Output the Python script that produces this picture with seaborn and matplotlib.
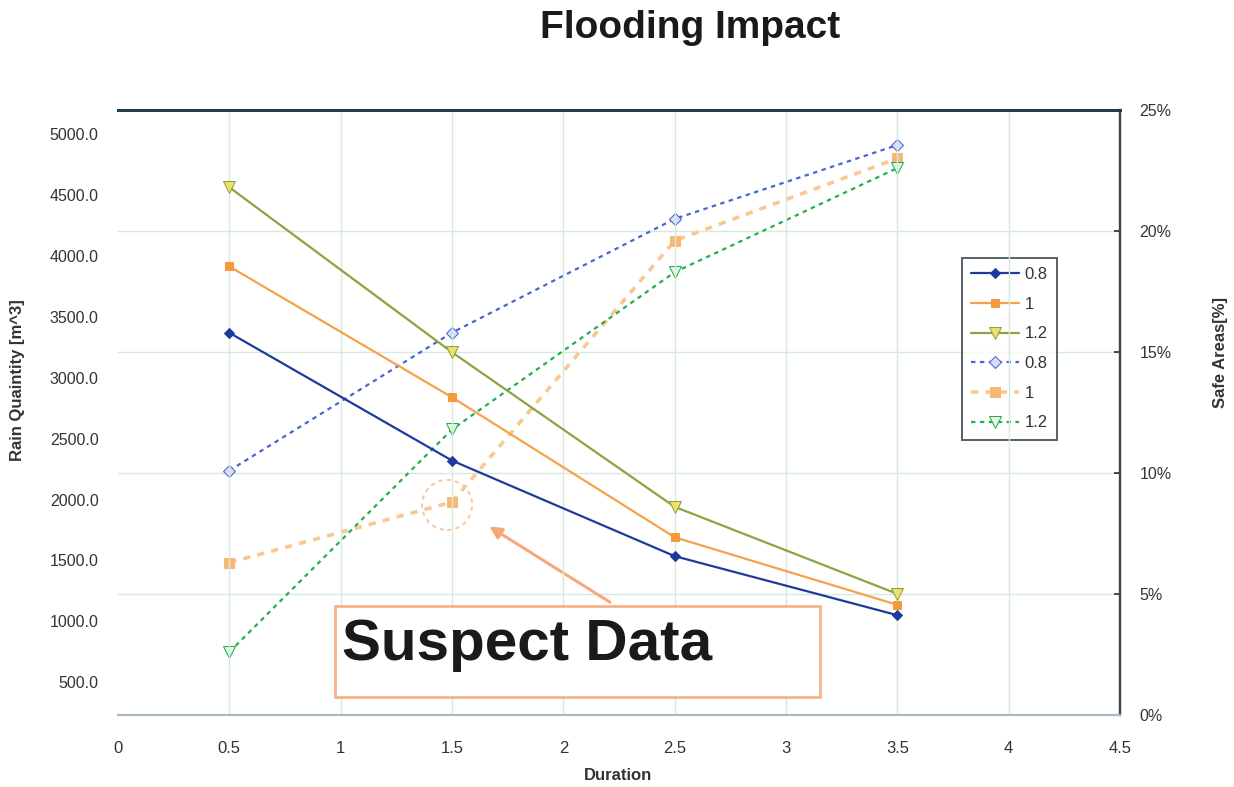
import matplotlib
matplotlib.use("Agg")
import matplotlib.pyplot as plt
import seaborn as sns
import pandas as pd
from matplotlib.patches import Ellipse, Rectangle
from matplotlib.ticker import FormatStrFormatter, FuncFormatter

# ---- data ----
duration = [0.5, 1.5, 2.5, 3.5]
rain_08 = [3370, 2320, 1535, 1050]
rain_10 = [3915, 2840, 1690, 1135]
rain_12 = [4565, 3210, 1940, 1225]
safe_08 = [10.1, 15.8, 20.5, 23.55]
safe_10 = [6.3, 8.8, 19.6, 23.0]
safe_12 = [2.6, 11.8, 18.3, 22.6]
series_labels = ["0.8", "1", "1.2"]
x_ticks = [0, 0.5, 1, 1.5, 2, 2.5, 3, 3.5, 4, 4.5]
left_ticks = [500, 1000, 1500, 2000, 2500, 3000, 3500, 4000, 4500, 5000]
right_ticks = [0, 5, 10, 15, 20, 25]

sns.set_theme(style="white")
plt.rcParams["font.family"] = ["Liberation Sans", "DejaVu Sans"]

fig = plt.figure(figsize=(12.34, 7.87), dpi=100)
ax = fig.add_axes([118 / 1234, 1 - 715 / 787, 1002 / 1234, 605 / 787])
ax2 = ax.twinx()

grid_c = "#d6eadc"
for xv in x_ticks[1:-1]:
    ax.axvline(xv, color=grid_c, lw=1, zorder=0)
for yv in right_ticks[1:-1]:
    ax2.axhline(yv, color=grid_c, lw=1, zorder=0)

solid_styles = [
    dict(color="#1e3a9c", marker="D", markersize=5, markerfacecolor="#1e3a9c", markeredgecolor="#1e3a9c"),
    dict(color="#f5a24a", marker="s", markersize=6, markerfacecolor="#f59a3c", markeredgecolor="#f59a3c"),
    dict(color="#8ea242", marker="v", markersize=8, markerfacecolor="#f0e070", markeredgecolor="#8ea242"),
]
dashed_styles = [
    dict(color="#4a64d8", marker="D", markersize=6, markerfacecolor="#d8ddf5", markeredgecolor="#4a64d8"),
    dict(color="#f9c890", marker="s", markersize=7, markerfacecolor="#f7b877", markeredgecolor="#f7b877"),
    dict(color="#22b04c", marker="v", markersize=8, markerfacecolor="#e6f5e6", markeredgecolor="#22b04c"),
]

for vals, lab, st in zip([rain_08, rain_10, rain_12], series_labels, solid_styles):
    df = pd.DataFrame({"Duration": duration, "val": vals})
    sns.lineplot(data=df, x="Duration", y="val", ax=ax, label=lab, lw=1.6,
                 linestyle="-", **st)

for vals, lab, st in zip([safe_08, safe_10, safe_12], series_labels, dashed_styles):
    df = pd.DataFrame({"Duration": duration, "val": vals})
    lw = 2.6 if lab == "1" else 1.6
    sns.lineplot(data=df, x="Duration", y="val", ax=ax2, label=lab, lw=lw,
                 linestyle=(0, (2, 2)), **st)

ax.set_xlim(0, 4.5)
ax.set_ylim(230, 5200)
ax2.set_ylim(0, 25)
ax.set_xticks(x_ticks)
ax.set_xticklabels([f"{v:g}" for v in x_ticks])
ax.set_yticks(left_ticks)
ax.yaxis.set_major_formatter(FormatStrFormatter("%.1f"))
ax2.set_yticks(right_ticks)
ax2.yaxis.set_major_formatter(FuncFormatter(lambda v, p: f"{v:.0f}%"))
ax.set_xlabel("")
ax.set_ylabel("")
ax2.set_ylabel("")

tick_c = "#333333"
ax.tick_params(axis="x", colors=tick_c, labelsize=12, pad=19, length=0)
ax.tick_params(axis="y", colors=tick_c, labelsize=11.5, pad=14, length=0)
ax2.tick_params(axis="y", colors=tick_c, labelsize=11.5, pad=14, length=4, direction="in")

for a in (ax, ax2):
    a.spines["left"].set_visible(False)
    a.spines["bottom"].set_color("#a9b9c4")
    a.spines["bottom"].set_linewidth(1.5)
    a.spines["top"].set_color("#1f3c48")
    a.spines["top"].set_linewidth(2)
    a.spines["right"].set_color("#3a4650")
    a.spines["right"].set_linewidth(1.6)
ax.set_facecolor("none")

ax.get_legend().remove()
h1, l1 = ax.get_legend_handles_labels()
h2, l2 = ax2.get_legend_handles_labels()
leg = ax2.legend(h1 + h2, l1 + l2, loc="upper left",
                 bbox_to_anchor=(962 / 1234, 1 - 258 / 787), bbox_transform=fig.transFigure,
                 borderaxespad=0, frameon=True, fancybox=False, edgecolor="#2a3a44", fontsize=12,
                 handlelength=2.9, labelspacing=0.88, borderpad=0.55, handletextpad=0.3)
leg.get_frame().set_linewidth(1.4)
for t in leg.get_texts():
    t.set_color("#333333")

# suspect data annotation
ax2.add_patch(Ellipse((1.478, 8.68), 0.225, 2.07, fill=False, edgecolor="#f8c8a0",
                      lw=1.5, linestyle=(0, (2, 2)), zorder=5))
ax2.annotate("", xy=(1.657, 7.85), xytext=(2.22, 4.6),
             arrowprops=dict(arrowstyle="-|>", color="#f7a878", lw=2.2,
                             mutation_scale=18), zorder=5)
ax.add_patch(Rectangle((0.2166, 0.0298), 0.484, 0.1505, transform=ax.transAxes,
                       facecolor="white", edgecolor="#f5b38a", lw=2, zorder=6))
ax.text(0.2236, 0.1157, "Suspect Data", transform=ax.transAxes, fontsize=42,
        fontweight="bold", color="#1a1a1a", va="center", ha="left", zorder=7)
ax.set_zorder(ax2.get_zorder() + 1)
ax2.patch.set_visible(True)
ax2.patch.set_facecolor("white")

fig.text(690 / 1234, 1 - 28 / 787, "Flooding Impact", fontsize=28, fontweight="bold",
         ha="center", va="center", color="#1a1a1a")
fig.text(618 / 1234, 1 - 775 / 787, "Duration", fontsize=12, fontweight="bold",
         ha="center", va="center", color="#333333")
fig.text(18 / 1234, 1 - 380 / 787, "Rain Quaintity [m^3]", fontsize=12, fontweight="bold",
         ha="center", va="center", rotation=90, color="#333333")
fig.text(1220 / 1234, 1 - 352 / 787, "Safe Areas[%]", fontsize=12, fontweight="bold",
         ha="center", va="center", rotation=90, color="#333333")

fig.savefig("out.png", dpi=100, facecolor="white")
